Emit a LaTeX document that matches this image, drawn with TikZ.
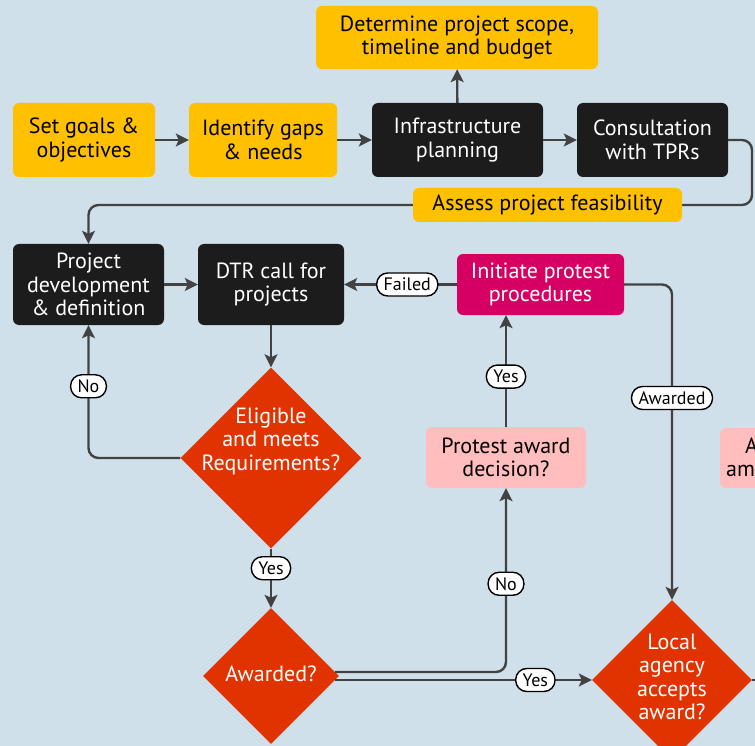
\documentclass[tikz,border=0pt]{standalone}
\usepackage{fontspec}
\setmainfont{PT Sans}
\usetikzlibrary{shapes.geometric,arrows.meta,calc}
\definecolor{bg}{HTML}{CFE0EA}
\definecolor{yel}{HTML}{FFC000}
\definecolor{blk}{HTML}{1C1C1C}
\definecolor{mag}{HTML}{D60062}
\definecolor{dred}{HTML}{E03300}
\definecolor{pinkbox}{HTML}{FFBDBD}
\definecolor{wire}{HTML}{424242}
\newcommand{\boxfont}{\fontsize{22}{23.5}\selectfont}
\begin{document}
\begin{tikzpicture}[x=1pt,y=-1pt,
  box/.style={rectangle, rounded corners=6pt, align=center, inner sep=0pt, font=\boxfont},
  ybox/.style={box, fill=yel, text=black},
  kbox/.style={box, fill=blk, text=white},
  mbox/.style={box, fill=mag, text=white},
  pbox/.style={box, fill=pinkbox, text=black},
  dia/.style={diamond, fill=dred, inner sep=0pt, minimum width=#1, minimum height=#1},
  dtext/.style={align=center, text=white, font=\boxfont},
  conn/.style={draw=wire, line width=2.4pt, rounded corners=10pt},
  arr/.style={conn, -{Stealth[length=13pt,width=13pt,inset=3pt]}},
  pill/.style={fill=white, draw=black, line width=1.4pt, rounded corners=11pt,
    inner xsep=7pt, inner ysep=3pt, minimum height=23pt, text=black,
    font=\fontsize{18}{19}\selectfont}]

\useasboundingbox (0,0) rectangle (755,746);
\fill[bg] (0,0) rectangle (755,746);

\begin{scope}
\clip (0,0) rectangle (755,746);

% process boxes
\node[ybox, minimum width=142pt, minimum height=74pt] (setg) at (84,140) {Set goals \&\\objectives};
\node[ybox, minimum width=148pt, minimum height=74pt] (ident) at (263,140) {Identify gaps\\\& needs};
\node[kbox, minimum width=171pt, minimum height=74pt] (infra) at (457.5,140) {Infrastructure\\planning};
\node[kbox, minimum width=151pt, minimum height=74pt] (consult) at (652.5,140) {Consultation\\with TPRs};
\node[ybox, minimum width=282pt, minimum height=63pt] (determ) at (457,37.5) {Determine project scope,\\timeline and budget};
\node[kbox, minimum width=151pt, minimum height=81pt] (projdev) at (88.5,284.5) {Project\\development\\\& definition};
\node[kbox, minimum width=146pt, minimum height=81pt] (dtr) at (271,284.5) {DTR call for\\projects};
\node[mbox, minimum width=167pt, minimum height=61pt] (initiate) at (540.5,284.5) {Initiate protest\\procedures};
\node[pbox, minimum width=160pt, minimum height=61pt] (protest) at (506,457.5) {Protest award\\decision?};

% decisions
\node[dia=181pt] (elig) at (271,458) {};
\node[dtext] at (271,441) {Eligible\\and meets\\Requirements?};
\node[dia=136pt] (aw) at (271,676) {};
\node[dtext] at (271,674) {Awarded?};
\node[dia=160pt] (local) at (672,680) {};
\node[dtext] at (672,677) {Local\\agency\\accepts\\award?};

% box running off the right edge
\fill[pinkbox, rounded corners=6pt] (720,428) rectangle (820,488);
\node[anchor=base west, inner sep=0pt, font=\boxfont] at (745,453) {A};
\node[anchor=base west, inner sep=0pt, font=\boxfont] at (726,476) {am};

% return line from the consultation step, with the feasibility box on it
\draw[conn] (consult.east) -- (752,140) -- (752,205) -- (560,205);
\draw[arr] (560,205) -- (88.5,205) -- (projdev.north);
\node[ybox, minimum width=269pt, minimum height=34pt] (assess) at (547.5,205) {Assess project feasibility};

% connectors
\draw[arr] (setg) -- (ident);
\draw[arr] (ident) -- (infra);
\draw[arr] (infra) -- (consult);
\draw[arr] (infra) -- (determ);
\draw[arr] (projdev) -- (dtr);
\draw[arr] (dtr) -- (elig.north);
\draw[arr] (elig.west) -| node[pill, pos=0.77] {No} (projdev.south);
\draw[arr] (elig.south) -- node[pill, pos=0.33] {Yes} (aw.north);
\draw[arr] ($(aw.east)+(-4,-4)$) -| node[pill, pos=0.74] {No} (protest.south);
\draw[arr] ($(aw.east)+(-4,4)$) -- node[pill, pos=0.78] {Yes} (local.west);
\draw[arr] (protest.north) -- node[pill, pos=0.45] {Yes} (protest.north |- initiate.south);
\draw[arr] (initiate.west) -- node[pill, pos=0.44] {Failed} (dtr.east);
\draw[arr] (initiate.east) -| node[pill, pos=0.68] {Awarded} (local.north);
\draw[conn] (local.east) -- ++(12,0);
\end{scope}
\end{tikzpicture}
\end{document}
